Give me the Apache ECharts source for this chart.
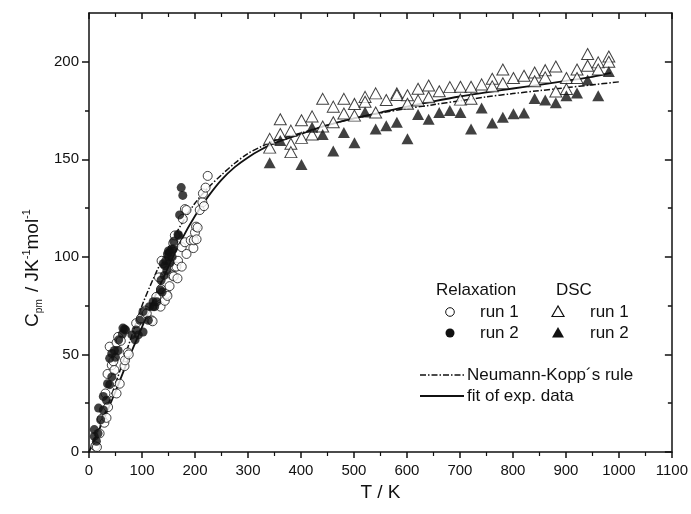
<!DOCTYPE html>
<html><head><meta charset="utf-8">
<script src="https://cdn.jsdelivr.net/npm/echarts@6/dist/echarts.min.js"></script>
<style>html,body{margin:0;padding:0;background:#fff}#c{width:691px;height:514px}</style>
</head><body><div id="c"></div>
<script>
// ---- data (T / K, Cpm / J K^-1 mol^-1) ----
const relaxRun1 = [[12,3],[15,2.5],[20,9.5],[24,17],[29,15],[33,17.5],[36,23],[31,30],[35,40],[39,54],[43,44.5],[46,46.5],[48,42],[52,30],[52,56],[55,59],[58,35],[60,57],[67,44],[68,47],[73,51],[75,50],[89,66],[98,68.5],[106,72.5],[109,71],[118,67.5],[120,67],[127,79.5],[132,89.5],[135,74.5],[136,83.5],[137,98],[143,77.5],[146,81],[148,80],[152,85],[157,90.5],[160,90],[162,95],[159,107],[162,111],[165,95],[167,89],[168,98],[175,95],[175,105],[177,119.5],[181,107.5],[181,124.5],[184,101.5],[184,124],[192,108.5],[197,104.5],[198,108.5],[200,112.5],[202,115.5],[203,109],[205,115],[209,124],[214,128],[215,132.5],[217,126],[220,135.5],[224,141.5]];
const relaxRun2 = [[10,8],[10,11.5],[14,5.5],[17,9.5],[18,22.5],[22,16.5],[27,21.5],[27,28.5],[33,26.5],[35,35],[39,34.5],[43,38.5],[39,48],[43,50.5],[48,52],[50,48.5],[55,52],[56,57.5],[63,60.5],[64,63.5],[67,63],[69,62.5],[81,60],[87,57.5],[89,62.5],[93,60],[96,67.5],[102,61.5],[102,72],[112,67.5],[114,74.5],[121,74.5],[121,77],[124,74.5],[128,77],[135,83],[138,82],[136,88],[142,90.5],[143,95.5],[140,96.5],[145,98],[147,93],[148,101.5],[150,100],[150,103],[153,102.5],[153,97],[156,104],[157,100],[159,104],[160,108],[168,111.5],[169,111],[171,121.5],[174,135.5],[177,131.5]];
const dscRun1 = [[341,160.5],[341,156],[361,170.5],[361,163],[381,164.7],[381,158],[381,153.7],[401,170],[401,161],[421,172],[421,162.7],[441,181],[441,166.8],[461,177],[461,169],[481,181],[481,173.5],[501,178.4],[501,172.4],[521,182],[521,179.5],[541,183.8],[541,174],[561,180.4],[581,183.8],[581,183],[601,182.8],[601,178.5],[621,186.2],[621,180.2],[641,187.8],[641,181.8],[661,184.9],[681,187],[701,187.2],[701,180.6],[721,187.2],[721,181],[741,188.4],[761,191.3],[761,187.4],[781,196],[781,189],[801,191.7],[821,192.8],[841,194.5],[841,190],[861,195.7],[861,192],[881,197.6],[881,184.8],[901,191.7],[901,186],[921,196],[921,191.7],[941,204],[941,198],[961,199.7],[961,196],[981,202.7],[981,200]];
const dscRun2 = [[341,148.2],[361,159.6],[401,147.4],[421,166.4],[441,162.7],[461,154.3],[481,163.7],[501,158.5],[521,174.3],[541,165.5],[561,167.2],[581,169],[601,160.5],[621,173],[641,170.6],[661,174],[681,175],[701,174],[721,165.5],[741,176.3],[761,168.6],[781,171.6],[801,173.3],[821,173.8],[841,181.2],[861,180.4],[881,179],[901,182.6],[921,184],[941,190.7],[961,182.6],[981,195]];
const neumannKopp = [[5,2],[25,16],[50,35],[75,55],[100,75],[125,91],[150,105],[175,117],[200,127.5],[225,135.5],[250,142],[275,148],[300,153],[325,156.5],[350,159.5],[400,163.5],[450,167.5],[500,171],[550,173.7],[600,176],[650,178],[700,180],[750,182],[800,183.7],[850,185.2],[900,186.7],[950,188.2],[1000,189.7]];
const fitExp = [[0,0],[25,15],[50,31],[75,48],[100,64],[125,80],[150,95],[175,109],[200,121],[225,131],[250,139.5],[275,146],[300,151],[325,155],[350,158.3],[400,163],[450,167.5],[500,171],[550,174],[600,177],[650,179.7],[700,182.2],[750,184.3],[800,186.3],[850,188.2],[900,190.2],[950,192.3],[985,194.3]];
const yMajorTicks = [0, 50, 100, 150, 200];
const yMinorTicks = [25, 75, 125, 175];

const FONT = '"Liberation Sans", Arial, Helvetica, sans-serif';
const INK = '#111';
const chart = echarts.init(document.getElementById('c'), null, {renderer: 'canvas'});

const lineSt = {color: INK, width: 1.5};
function xAx(pos) {
  const top = pos === 'top';
  return {
    type: 'value', position: pos, min: 0, max: 1100, interval: 100,
    axisLine: {show: true, onZero: false, lineStyle: lineSt},
    axisTick: {show: true, inside: top, length: 6, lineStyle: lineSt},
    minorTick: {show: true, splitNumber: 2, length: 4, lineStyle: {color: INK, width: 1.2}},
    axisLabel: {show: !top, fontSize: 15, color: INK, fontFamily: FONT, margin: 11,
                formatter: function (v) { return String(v); }},
    splitLine: {show: false}, minorSplitLine: {show: false},
    name: top ? '' : 'T / K', nameLocation: 'middle', nameGap: 29,
    nameTextStyle: {fontSize: 19, color: INK, fontFamily: FONT}
  };
}
function yAx(pos, minor) {
  const right = pos === 'right';
  return {
    type: 'value', position: pos, min: 0, max: 225,
    axisLine: {show: !minor, onZero: false, lineStyle: lineSt},
    axisTick: {show: true, inside: right, length: minor ? 4 : 7, lineStyle: lineSt,
               customValues: minor ? yMinorTicks : yMajorTicks},
    axisLabel: {show: !right && !minor, fontSize: 15, color: INK, fontFamily: FONT, margin: 10,
                customValues: yMajorTicks},
    splitLine: {show: false}
  };
}

const option = {
  animation: false,
  backgroundColor: '#fff',
  grid: {left: 89, right: 19, top: 13, bottom: 62, containLabel: false},
  xAxis: [xAx('bottom'), xAx('top')],
  yAxis: [yAx('left', false), yAx('left', true), yAx('right', false), yAx('right', true)],
  series: [
    {name: 'Neumann-Kopp´s rule', type: 'line', data: neumannKopp, showSymbol: false, smooth: 0.3, z: 2,
     lineStyle: {color: INK, width: 1.5, type: [6, 2, 1.5, 2]}},
    {name: 'fit of exp. data', type: 'line', data: fitExp, showSymbol: false, smooth: 0.3, z: 2,
     lineStyle: {color: INK, width: 1.8}},
    {name: 'Relaxation run 1', type: 'scatter', data: relaxRun1, symbol: 'circle', symbolSize: 9, z: 3,
     itemStyle: {color: '#fff', borderColor: INK, borderWidth: 1}},
    {name: 'Relaxation run 2', type: 'scatter', data: relaxRun2, symbol: 'circle', symbolSize: 9, z: 4,
     itemStyle: {color: INK}},
    {name: 'DSC run 1', type: 'scatter', data: dscRun1, symbol: 'triangle', symbolSize: [12, 11], z: 3,
     itemStyle: {color: '#fff', borderColor: INK, borderWidth: 1}},
    {name: 'DSC run 2', type: 'scatter', data: dscRun2, symbol: 'triangle', symbolSize: [12, 11], z: 4,
     itemStyle: {color: INK}}
  ],
  graphic: [
    {type: 'text', x: 33, y: 268, rotation: Math.PI / 2,
     style: {text: '{m|C}{s|pm}{m| / JK}{p|-1}{m|mol}{p|-1}', align: 'center', verticalAlign: 'middle',
       fill: INK,
       rich: {m: {fontSize: 19, fontFamily: FONT, fill: INK},
              s: {fontSize: 10, fontFamily: FONT, fill: INK, padding: [12, 2, 0, 0]},
              p: {fontSize: 11, fontFamily: FONT, fill: INK, padding: [0, 0, 12, 0]}}}},
    {type: 'text', x: 436, y: 290, style: {text: 'Relaxation', font: '17px ' + FONT, fill: INK, verticalAlign: 'middle'}},
    {type: 'text', x: 556, y: 290, style: {text: 'DSC', font: '17px ' + FONT, fill: INK, verticalAlign: 'middle'}},
    {type: 'circle', shape: {cx: 450, cy: 312, r: 4.3}, style: {fill: '#fff', stroke: INK, lineWidth: 1}},
    {type: 'text', x: 480, y: 312, style: {text: 'run 1', font: '17px ' + FONT, fill: INK, verticalAlign: 'middle'}},
    {type: 'circle', shape: {cx: 450, cy: 333, r: 4.5}, style: {fill: INK}},
    {type: 'text', x: 480, y: 333, style: {text: 'run 2', font: '17px ' + FONT, fill: INK, verticalAlign: 'middle'}},
    {type: 'polygon', shape: {points: [[558, 306], [552, 316.5], [564, 316.5]]}, style: {fill: '#fff', stroke: INK, lineWidth: 1.2}},
    {type: 'text', x: 590, y: 312, style: {text: 'run 1', font: '17px ' + FONT, fill: INK, verticalAlign: 'middle'}},
    {type: 'polygon', shape: {points: [[558, 327], [552, 337.5], [564, 337.5]]}, style: {fill: INK}},
    {type: 'text', x: 590, y: 333, style: {text: 'run 2', font: '17px ' + FONT, fill: INK, verticalAlign: 'middle'}},
    {type: 'line', shape: {x1: 420, y1: 375, x2: 464, y2: 375}, style: {stroke: INK, lineWidth: 1.5, lineDash: [6, 2, 1.5, 2]}},
    {type: 'text', x: 467, y: 375, style: {text: 'Neumann-Kopp´s rule', font: '17px ' + FONT, fill: INK, verticalAlign: 'middle'}},
    {type: 'line', shape: {x1: 420, y1: 396, x2: 464, y2: 396}, style: {stroke: INK, lineWidth: 1.8}},
    {type: 'text', x: 467, y: 396, style: {text: 'fit of exp. data', font: '17px ' + FONT, fill: INK, verticalAlign: 'middle'}}
  ]
};
chart.setOption(option);
</script>
</body></html>
